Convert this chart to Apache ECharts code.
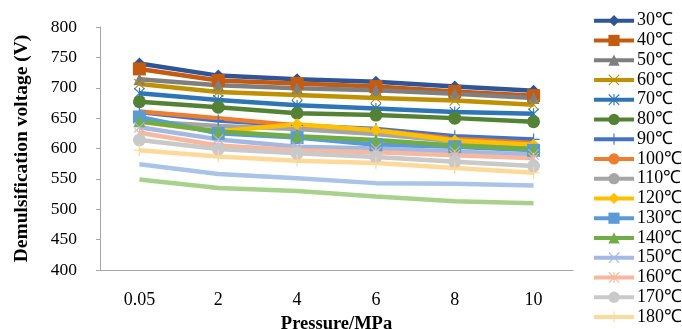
<!DOCTYPE html>
<html>
<head>
<meta charset="utf-8">
<script src="https://cdn.jsdelivr.net/npm/echarts@6/dist/echarts.min.js"></script>
<style>
  html, body { margin: 0; padding: 0; background: #fff; }
  #main { width: 682px; height: 329px; }
</style>
</head>
<body>
<div id="main"></div>
<script>
// pressure categories (MPa)
var pressures = ['0.05', '2', '4', '6', '8', '10'];
var yTicks = [400, 450, 500, 550, 600, 650, 700, 750, 800];

// demulsification voltage (V) per temperature
var t30  = [740, 720, 714, 710, 702, 695];
var t40  = [731, 712, 707, 702, 694, 687];
var t50  = [714, 704, 699, 696, 690, 683];
var t60  = [706, 693, 688, 683, 679, 672];
var t70  = [691, 680, 671, 666, 660, 657];
var t80  = [677, 668, 658, 655, 650, 644];
var t90  = [660, 646, 638, 632, 620, 615];
var t100 = [661, 650, 638, 630, 616, 609];
var t110 = [645, 637, 632, 624, 612, 603];
var t120 = [644, 628, 640, 630, 613, 606];
var t130 = [652, 625, 618, 606, 603, 597];
var t140 = [645, 628, 620, 614, 605, 599];
var t150 = [635, 615, 603, 600, 595, 590];
var t160 = [626, 605, 597, 594, 589, 584];
var t170 = [614, 599, 592, 586, 578, 571];
var t180 = [597, 587, 580, 576, 568, 560];
var t190 = [574, 558, 551, 543, 542, 539];
var t200 = [549, 535, 530, 521, 513, 510];

var names = ['30℃', '40℃', '50℃', '60℃', '70℃', '80℃', '90℃', '100℃', '110℃',
  '120℃', '130℃', '140℃', '150℃', '160℃', '170℃', '180℃', '190℃', '200℃'];
var values = [t30, t40, t50, t60, t70, t80, t90, t100, t110, t120, t130, t140,
  t150, t160, t170, t180, t190, t200];

var colors = ['#2F5597', '#C55A11', '#7F7F7F', '#BF9000', '#2E75B6', '#548235',
  '#4472C4', '#ED7D31', '#A5A5A5', '#FFC000', '#5B9BD5', '#70AD47',
  '#A4B8E4', '#F7B8A0', '#C9C9C9', '#FFD99A', '#A9C4E6', '#A9D18E'];

var PLUS = 'path://M9,0H11V9H20V11H11V20H9V11H0V9H9Z';
var CROSS = 'path://M0,1.4L1.4,0L10,8.6L18.6,0L20,1.4L11.4,10L20,18.6L18.6,20L10,11.4L1.4,20L0,18.6L8.6,10Z';
var STAR = CROSS + ' M9,0H11V20H9Z';
var symbols = ['diamond', 'rect', 'triangle', CROSS, STAR, 'circle', PLUS, 'none', 'none',
  'diamond', 'rect', 'triangle', CROSS, STAR, 'circle', PLUS, 'none', 'none'];
var sizes = [12, 13, 12, 11, 11, 13, 12, 0, 0, 12, 13, 12, 11, 11, 13, 12, 0, 0];

var series = names.map(function (n, i) {
  return {
    name: n,
    type: 'line',
    data: values[i],
    symbol: symbols[i],
    symbolSize: sizes[i],
    showSymbol: symbols[i] !== 'none',
    lineStyle: { color: colors[i], width: 4.5 },
    itemStyle: { color: colors[i] },
    emphasis: { disabled: true },
    animation: false
  };
});

var serif = 'Liberation Serif';
var chart = echarts.init(document.getElementById('main'));
chart.setOption({
  textStyle: { fontFamily: serif },
  grid: { left: 100, right: 109, top: 27, bottom: 59, outerBoundsMode: 'none', containLabel: false },
  legend: {
    orient: 'vertical',
    left: 592,
    top: 11.7,
    height: 318,
    padding: 0,
    itemWidth: 40,
    itemHeight: 14,
    itemGap: 1.75,
    data: names.slice(0, 16),
    lineStyle: { width: 4 },
    textStyle: { fontSize: 18, color: '#000', fontFamily: serif, padding: [0, 0, 0, -2] }
  },
  xAxis: {
    type: 'category',
    data: pressures,
    boundaryGap: true,
    name: 'Pressure/MPa',
    nameLocation: 'middle',
    nameGap: 45,
    nameTextStyle: { fontSize: 18.5, fontWeight: 'bold', color: '#000', fontFamily: serif },
    axisLine: { lineStyle: { color: '#a6a6a6', width: 1 } },
    axisTick: { inside: true, length: 5, lineStyle: { color: '#a6a6a6' } },
    axisLabel: { fontSize: 18, color: '#000', margin: 21, fontFamily: serif },
    splitLine: { show: false }
  },
  yAxis: {
    type: 'value',
    min: yTicks[0],
    max: yTicks[yTicks.length - 1],
    interval: 50,
    name: 'Demulsification voltage (V)',
    nameLocation: 'middle',
    nameGap: 68,
    nameTextStyle: { fontSize: 19.5, fontWeight: 'bold', color: '#000', fontFamily: serif },
    axisLine: { show: true, lineStyle: { color: '#a6a6a6', width: 1 } },
    axisTick: { show: true, length: 4, lineStyle: { color: '#a6a6a6' } },
    axisLabel: { fontSize: 17.5, color: '#000', margin: 23, fontFamily: serif },
    splitLine: { show: false }
  },
  series: series
});
</script>
</body>
</html>
